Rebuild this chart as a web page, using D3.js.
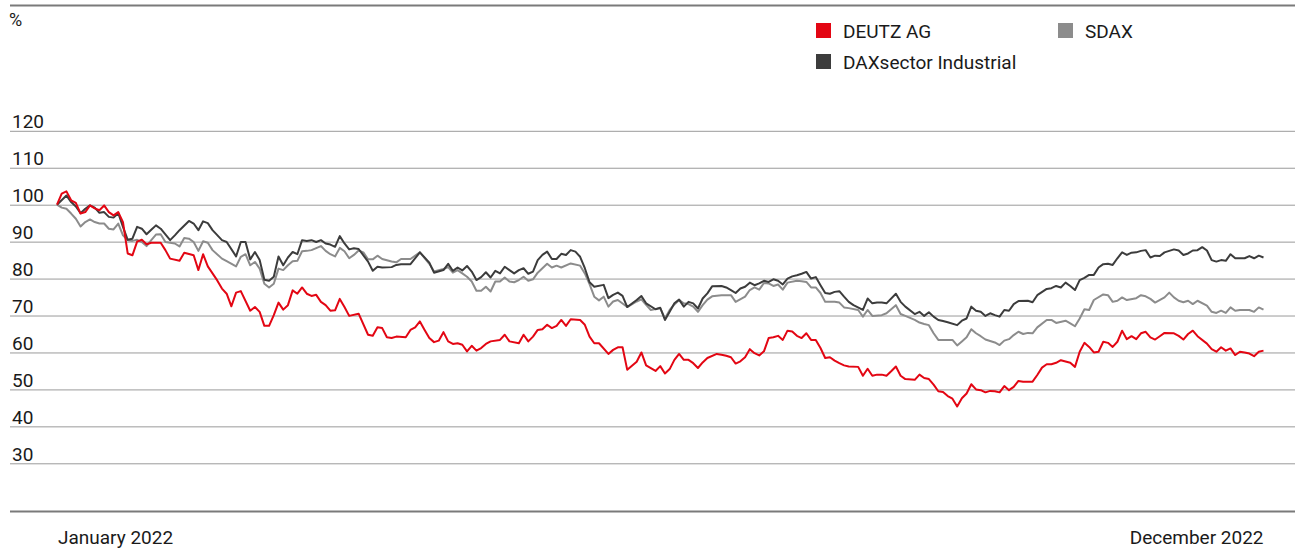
<!DOCTYPE html>
<html><head><meta charset="utf-8">
<script src="https://cdn.jsdelivr.net/npm/d3@7"></script>
<style>
html,body{margin:0;padding:0;background:#fff;}
svg{display:block;font-family:Roboto,"Noto Sans",sans-serif;}
</style></head>
<body>
<svg id="chart" width="1295" height="550"></svg>
<script>
// ---- data: [trading day of 2022, indexed value (Jan 2022 = 100)] ----
const seriesNames = ["DEUTZ AG", "DAXsector Industrial", "SDAX"];
const yTicks = [30, 40, 50, 60, 70, 80, 90, 100, 110, 120];
const xLabels = ["January 2022", "December 2022"];
const dayDomain = [0, 256];

const deutz = [[0,100],[1,103],[2,103.6],[3,101.2],[4,100.5],[5,97.6],[6,98],[7,99.8],[8,99],[9,98.5],[10,99.8],[11,98],[12,97.1],[13,98],[14,95.3],[15,86.8],[16,86.3],[17,90],[18,90.5],[19,89.3],[20,89.7],[22,89.7],[23,87.7],[24,85.4],[26,84.8],[27,87],[29,86.3],[30,82.3],[31,86.6],[32,83.3],[34,79.5],[35,77.3],[36,75.9],[37,72.5],[38,76.2],[39,76.6],[41,71.3],[42,72.3],[43,71],[44,67.2],[45,67.2],[46,70.1],[47,73.5],[48,71.6],[49,72.8],[50,76.8],[51,75.9],[52,77.6],[53,75.9],[54,75.3],[55,75.6],[56,73.7],[57,72.8],[58,71.3],[59,71.4],[60,74.5],[61,72.3],[62,69.9],[64,70.5],[66,64.8],[67,64.5],[68,66.8],[69,66.6],[70,64.1],[71,63.9],[72,64.3],[74,64.1],[75,66.1],[76,66.8],[77,68.4],[78,66.1],[79,63.9],[80,62.8],[81,63.2],[82,65.5],[83,63],[84,62.3],[85,62.5],[86,62.1],[87,60.3],[88,61.8],[89,60.5],[90,61.2],[91,62.3],[92,63],[94,63.4],[95,64.8],[96,63],[98,62.5],[99,64.8],[100,63],[101,64.3],[102,66.1],[103,66.3],[104,67.5],[105,66.6],[106,67.2],[107,68.8],[108,67.2],[109,69],[111,68.8],[112,67.5],[113,64.3],[114,62.5],[115,62.5],[117,59.6],[118,60.7],[119,61.4],[120,61.4],[121,55.3],[123,57.5],[124,60],[125,56.5],[127,55],[128,56.3],[129,54.3],[130,55.5],[131,58],[132,59.6],[133,58],[134,58],[135,57.1],[136,55.8],[137,57.3],[138,58.5],[140,59.6],[141,59.4],[142,59.1],[143,58.7],[144,57],[145,57.6],[146,58.7],[147,60.9],[148,59.8],[149,59.2],[150,60.3],[151,63.9],[152,64.1],[153,64.5],[154,63.4],[155,65.9],[156,65.7],[157,64.5],[158,63.9],[159,65.2],[160,63.4],[161,63.4],[162,61.2],[163,58.5],[164,58.7],[165,57.8],[166,57.1],[167,56.5],[168,56.2],[170,56.1],[171,53.7],[172,55.6],[173,53.7],[174,54],[175,54],[176,53.7],[177,54.9],[178,56.2],[179,53.7],[180,52.8],[182,52.6],[183,54],[184,53.1],[185,52.8],[186,51.3],[187,49.5],[188,49.3],[189,48.2],[190,47.5],[191,45.4],[192,47.6],[193,48.9],[194,51.4],[195,50],[196,49.8],[197,49.2],[198,49.6],[199,49.5],[200,49.2],[201,50.9],[202,49.8],[203,50.7],[204,52.3],[205,52.1],[207,52.1],[208,53.9],[209,55.9],[210,56.8],[211,56.8],[212,57.2],[213,57.9],[215,57.2],[216,56.1],[217,60.2],[218,62.6],[219,61.5],[220,60],[221,60.2],[222,62.9],[223,62.6],[224,61.5],[225,62.9],[226,65.9],[227,63.6],[228,64.4],[229,63.6],[230,65.2],[231,65.6],[232,64.1],[233,63.5],[234,64.4],[235,65.3],[237,65.2],[238,64.5],[239,63.5],[240,65],[241,65.9],[242,64.4],[244,62.4],[245,60.9],[246,60.2],[247,61.4],[248,60.5],[249,61.1],[250,59.3],[251,60.2],[252,60],[253,59.7],[254,59],[255,60.2],[256,60.5]];

const daxIndustrial = [[0,100],[2,102.5],[3,100.7],[4,99.5],[5,97.7],[6,98.9],[7,99.8],[8,99.2],[9,97.8],[10,98],[11,96.7],[12,96.5],[13,97.7],[14,94],[15,90.5],[16,90.8],[17,94],[18,93.5],[19,92],[20,93.2],[21,94.4],[22,93.5],[24,90.4],[25,91.7],[26,93.1],[28,95.6],[29,94.9],[30,93.1],[31,95.5],[32,95],[33,93.1],[35,90.4],[36,89.9],[38,86],[39,89.9],[40,89.9],[41,85.2],[42,87.2],[43,85],[44,79.7],[45,79.4],[46,80.5],[47,86],[48,83.6],[49,85.7],[50,87.2],[51,86.6],[52,90.4],[53,90.2],[54,90.4],[55,89.9],[56,90.4],[57,89.5],[58,89.2],[59,88.6],[60,91.5],[61,89.5],[62,87.9],[63,88.2],[64,88],[66,84.6],[67,82.1],[68,83.2],[69,83],[71,83.1],[72,83.7],[73,83.9],[75,83.9],[77,87.1],[79,84.3],[80,81.6],[82,82.3],[83,84],[84,82.1],[85,83],[86,82.2],[87,83.4],[88,81.9],[89,79.6],[90,80.4],[91,81.7],[92,80.3],[93,82.1],[94,81.4],[95,83.2],[96,82.3],[97,81.4],[98,82.3],[99,82.8],[100,81.3],[101,81.9],[102,85],[103,86.4],[104,87.3],[105,85.3],[106,85.3],[107,86.7],[108,86.4],[109,87.7],[110,87.3],[111,85.9],[112,82.8],[113,79],[114,77.8],[116,78.3],[117,74.7],[118,75.6],[119,76.2],[120,75.3],[121,72.3],[123,74.2],[124,75.3],[125,73.3],[127,71.7],[128,72.1],[129,68.8],[130,71],[131,73.3],[132,74.3],[133,72.4],[134,73.7],[135,73.3],[136,71.9],[137,74.6],[138,76],[139,77.9],[141,78],[142,77.6],[143,76.9],[144,76.1],[145,77.3],[146,77.8],[147,78.9],[148,78.2],[149,78.7],[150,79.4],[151,79.1],[152,79.8],[153,79.4],[154,78.4],[155,80],[156,80.6],[157,80.9],[158,81.3],[159,81.8],[160,80],[161,80.4],[162,78.2],[163,76.1],[164,75.9],[165,76.4],[166,76.6],[167,75.1],[168,73.7],[169,72.8],[171,71.5],[172,74.6],[173,73.3],[174,73.5],[175,73.5],[176,73.3],[178,75.9],[179,73.7],[180,72.4],[182,70.4],[183,71],[184,69.9],[185,70.9],[186,69.7],[187,68.8],[188,68.5],[189,68.2],[191,67.4],[192,68.6],[193,69.2],[194,72.4],[195,71.3],[196,71],[197,69.9],[198,70.6],[199,70.1],[200,69.7],[201,71.5],[202,71.3],[203,73.1],[204,73.9],[206,74],[207,73.6],[208,75.5],[210,77.2],[211,77.4],[212,78],[213,77.6],[214,78.9],[215,78],[216,76.9],[217,79.6],[218,80.2],[219,81],[220,81],[221,83],[222,83.9],[223,84],[224,83.7],[225,85.5],[226,87.1],[227,86.4],[228,87],[229,87.1],[230,87.5],[231,87.7],[232,85.7],[233,86.2],[234,86.1],[235,87.1],[237,87.9],[238,87.6],[239,86.4],[240,86.8],[241,87.6],[242,87.7],[243,88.5],[244,87.6],[245,85],[246,84.6],[247,85],[248,84.8],[249,86.6],[250,85.5],[251,85.5],[252,85.5],[253,86.1],[254,85.5],[255,86.2],[256,85.7]];

const sdax = [[0,100],[1,99.2],[2,98.9],[3,97.6],[4,96.2],[5,94.1],[6,95.3],[7,96],[8,95.3],[9,94.9],[10,94.9],[11,93.5],[12,93.3],[13,94.9],[14,91.7],[15,90.4],[16,90.2],[17,90.5],[18,89.9],[19,88.8],[20,90.4],[21,91.9],[22,92],[23,89.9],[25,89.5],[26,88.7],[27,91],[28,90.8],[29,89.9],[30,87.5],[31,90.1],[32,89.7],[33,87.7],[35,85.4],[36,84.7],[38,83.3],[39,85.9],[40,86.6],[41,83.6],[42,84.5],[43,82.7],[44,78.6],[45,77.6],[46,78.6],[47,82.7],[48,82.3],[49,83.6],[50,84.7],[51,84.8],[52,87.4],[53,87.5],[54,87.7],[56,88.8],[57,87.5],[58,86.6],[59,86],[60,88.3],[61,87.4],[62,85.5],[63,86.4],[64,87.6],[65,87.1],[66,85.2],[67,85.2],[68,86.2],[69,85.3],[71,84.6],[72,84.4],[73,85.3],[75,85.3],[77,87.1],[79,84],[80,81.9],[82,82.6],[83,83.1],[84,81.6],[85,82.3],[86,81.4],[87,80.5],[88,79.2],[89,76.7],[90,76.7],[91,77.8],[92,76.5],[93,79.2],[94,79.2],[95,80.3],[96,79.2],[97,79],[98,79.6],[99,80.5],[100,79.4],[101,79.8],[102,81.6],[103,82.8],[104,84],[105,83],[106,83.5],[107,83],[109,84.1],[111,83.5],[112,81.4],[113,78.5],[114,75.1],[115,74.1],[116,75.1],[117,72.4],[118,73.8],[119,74.2],[121,72.3],[123,73.8],[124,74.4],[125,72.9],[126,71.5],[128,72],[129,69.2],[130,71.5],[131,73],[132,74.2],[133,73.3],[134,73.1],[135,72.4],[136,71],[137,72.8],[138,74.3],[139,75.2],[141,75.5],[143,75.5],[144,73.7],[146,75.1],[147,76.9],[148,77.6],[149,77],[150,78.8],[151,78.7],[152,78],[153,78.4],[154,77],[155,78.9],[157,79.4],[158,79.3],[159,79.1],[160,77.6],[161,77.6],[162,76.1],[163,73.7],[165,73.7],[166,73.5],[167,72.2],[168,72],[170,71.5],[171,69.7],[172,71.5],[173,69.9],[175,70.1],[176,70.6],[178,72.8],[179,70.4],[180,69.9],[182,68.8],[183,68.1],[184,67.7],[185,67.4],[186,65.2],[187,63.4],[189,63.4],[190,63.4],[191,61.9],[192,63],[193,64.1],[194,66.3],[195,65.2],[196,64.4],[197,63.5],[198,63.1],[199,62.7],[200,62],[201,63.2],[202,63.6],[203,64.7],[204,65.6],[205,65],[206,65.3],[207,65.2],[208,66.8],[210,68.8],[211,68.8],[212,68],[214,68.6],[215,67.9],[216,67.1],[217,69.2],[218,71.7],[219,71.5],[220,74.2],[222,75.7],[223,75.5],[224,73.7],[225,74],[226,74.9],[227,74.2],[229,74.7],[230,75.5],[231,75.2],[232,74.5],[233,73.5],[235,74.9],[236,76.2],[237,74.9],[238,74],[239,73.6],[240,74],[241,73.1],[242,74],[244,72.7],[245,71],[246,70.7],[247,71.3],[248,70.7],[249,72.2],[250,71.3],[251,71.5],[253,71.5],[254,71],[255,72.2],[256,71.6]];

// ---- drawing ----
const svg = d3.select("#chart");
const colors = {"DEUTZ AG":"#e30613","DAXsector Industrial":"#3c3c3c","SDAX":"#8c8c8c"};
const dataBy = {"DEUTZ AG":deutz,"DAXsector Industrial":daxIndustrial,"SDAX":sdax};
const FS = "19px";

const x = d3.scaleLinear().domain(dayDomain).range([57, 1263.5]);
const y = d3.scaleLinear().domain([30, 120]).range([463.3, 130.8]);

// frame lines
svg.append("line").attr("x1",10).attr("x2",1295).attr("y1",5.5).attr("y2",5.5)
  .attr("stroke","#7a7a7a").attr("stroke-width",2);
svg.append("line").attr("x1",10).attr("x2",1295).attr("y1",511.5).attr("y2",511.5)
  .attr("stroke","#7a7a7a").attr("stroke-width",2);

// y grid via axis
const yAxis = d3.axisRight(y).tickValues(yTicks).tickSize(1285).tickFormat(d=>d);
const gy = svg.append("g").attr("transform","translate(10,0)").call(yAxis);
gy.select(".domain").remove();
gy.selectAll(".tick line").attr("stroke","#9a9a9a").attr("stroke-width",1);
gy.selectAll(".tick text").attr("x",2).attr("y",0).attr("dy",-3).attr("text-anchor","start")
  .style("font-size",FS).style("font-family","Roboto, sans-serif").attr("fill","#1a1a1a");

// percent label
svg.append("text").attr("x",9).attr("y",26).text("%")
  .style("font-size","18px").attr("fill","#1a1a1a");

// lines
const line = d3.line().x(d=>x(d[0])).y(d=>y(d[1]));
["SDAX","DAXsector Industrial","DEUTZ AG"].forEach(name=>{
  svg.append("path").datum(dataBy[name]).attr("d",line)
    .attr("fill","none").attr("stroke",colors[name]).attr("stroke-width",2)
    .attr("stroke-linejoin","round");
});

// legend
const legendPos = [[816,23],[816,54],[1058,23]];
seriesNames.forEach((n,i)=>{
  const [lx,ly] = legendPos[i];
  svg.append("rect").attr("x",lx).attr("y",ly).attr("width",15).attr("height",15).attr("fill",colors[n]);
  svg.append("text").attr("x",lx+27).attr("y",ly+14.5).text(n)
    .style("font-size",FS).attr("fill","#1a1a1a");
});

// x labels
svg.append("text").attr("x",x(dayDomain[0])+1).attr("y",544).text(xLabels[0])
  .style("font-size",FS).attr("fill","#1a1a1a");
svg.append("text").attr("x",x(dayDomain[1])).attr("y",544).attr("text-anchor","end").text(xLabels[1])
  .style("font-size",FS).attr("fill","#1a1a1a");
</script>
</body></html>
